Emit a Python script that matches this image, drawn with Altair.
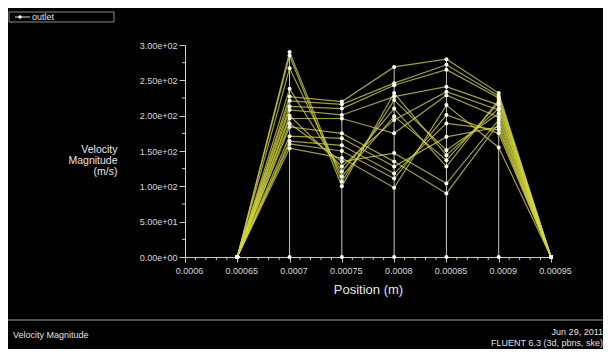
import altair as alt
import pandas as pd

# Positions along the outlet (m)
positions = [0.00065, 0.0007, 0.00075, 0.0008, 0.00085, 0.0009, 0.00095]

# Velocity magnitude (m/s) of each line at the inner positions
v_0007 = [290, 285, 267, 238, 227, 221, 213, 208, 200, 196, 189, 184, 171, 164, 160, 154]
v_00075 = [107, 100, 114, 121, 220, 216, 210, 201, 128, 196, 135, 175, 168, 158, 150, 140]
v_0008 = [222, 232, 199, 210, 269, 246, 243, 227, 194, 175, 147, 135, 128, 118, 111, 98]
v_00085 = [151, 144, 137, 128, 280, 272, 265, 241, 234, 229, 104, 90, 170, 189, 201, 215]
v_0009 = [203, 210, 218, 222, 232, 228, 225, 215, 208, 198, 194, 189, 184, 180, 175, 155]
edge_value = 0  # velocity at the walls (0.00065 and 0.00095)

y_major = list(range(0, 301, 50))
y_minor = list(range(25, 300, 50))
x_major = [round(0.0006 + i * 0.00005, 5) for i in range(8)]
x_minor = [round(0.0006 + i * 0.00001, 5) for i in range(36) if i % 5 != 0]

rows = []
for i in range(len(v_0007)):
    vals = [edge_value, v_0007[i], v_00075[i], v_0008[i], v_00085[i], v_0009[i], edge_value]
    for x, v in zip(positions, vals):
        rows.append({"line": i, "x": x, "v": v})
df = pd.DataFrame(rows)

pts = pd.concat([df, pd.DataFrame({"line": -1, "x": positions[1:-1], "v": edge_value})],
                ignore_index=True)
cols = df.groupby("x", as_index=False)["v"].max().rename(columns={"v": "vmax"})
cols["v"] = edge_value

FONT = "Liberation Sans"

x_axis = alt.Axis(
    values=x_major, format="~g", tickSize=5,
    labelPadding=4, labelFontSize=9, labelOffset=4, labelFlush=False, labelOverlap=False,
    grid=False, title="Position (m)", titleFontSize=13, titleY=32, titleBaseline="middle",
)
y_axis = alt.Axis(
    values=y_major,
    labelExpr="replace(format(datum.value, '.2e'), 'e+', 'e+0')",
    tickSize=6,
    labelPadding=2, labelFontSize=9, labelOverlap=False, labelFlush=False, grid=False,
    title=["Velocity", "Magnitude", "(m/s)"], titleAngle=0, titleAlign="right",
    titleBaseline="middle", titleX=-68, titleY=104.5, titleFontSize=10.5, titleLineHeight=10.8,
)

xs = alt.Scale(domain=[0.0006, 0.00095], nice=False, zero=False)
ys = alt.Scale(domain=[0, 300], nice=False)
X = alt.X("x:Q", scale=xs, axis=x_axis)
Y = alt.Y("v:Q", scale=ys, axis=y_axis)

rules = alt.Chart(cols).mark_rule(color="#c8c8b8", strokeWidth=1).encode(
    x=X, y=Y, y2="vmax:Q",
)
lines = alt.Chart(df).mark_line(color="#d6d640", strokeWidth=1.2, opacity=0.75).encode(
    x=X, y=Y, detail="line:N",
)
points = alt.Chart(pts).mark_circle(color="white", size=16, opacity=1).encode(
    x=X, y=Y,
)
y_minor_ticks = alt.Chart(pd.DataFrame({"v": y_minor})).mark_rule(color="#cccccc").encode(
    y=Y, x=alt.value(-3), x2=alt.value(0))
x_minor_ticks = alt.Chart(pd.DataFrame({"x": x_minor})).mark_rule(color="#cccccc").encode(
    x=X, y=alt.value(212), y2=alt.value(215))

one = pd.DataFrame({"a": [0]})
legend_box = alt.Chart(one).mark_rect(fill="black", stroke="#8a8a8a", strokeWidth=1).encode(
    x=alt.value(-176), x2=alt.value(-71), y=alt.value(-33), y2=alt.value(-23))
legend_line = alt.Chart(one).mark_rule(color="#dddddd", strokeWidth=1).encode(
    x=alt.value(-170), x2=alt.value(-155), y=alt.value(-28))
legend_dot = alt.Chart(one).mark_circle(color="white", size=12, opacity=1).encode(
    x=alt.value(-165), y=alt.value(-28))
legend_text = alt.Chart(one).mark_text(text="outlet", font=FONT, fontSize=9, color="#e0e0e0",
                                       align="left", baseline="middle").encode(
    x=alt.value(-153), y=alt.value(-28))
divider = alt.Chart(one).mark_rule(color="#6a6a6a", strokeWidth=1.5).encode(
    x=alt.value(-177), x2=alt.value(418), y=alt.value(275))
foot_left = alt.Chart(one).mark_text(text="Velocity Magnitude", font=FONT, fontSize=9,
                                     color="#e0e0e0", align="left", baseline="middle").encode(
    x=alt.value(-172), y=alt.value(290))
foot_date = alt.Chart(one).mark_text(text="Jun 29, 2011", font=FONT, fontSize=9,
                                     color="#e0e0e0", align="right", baseline="middle").encode(
    x=alt.value(418), y=alt.value(287))
foot_ver = alt.Chart(one).mark_text(text="FLUENT 6.3 (3d, pbns, ske)", font=FONT, fontSize=9,
                                    color="#e0e0e0", align="right", baseline="middle").encode(
    x=alt.value(418), y=alt.value(298))

chart = alt.layer(
    rules, lines, points, y_minor_ticks, x_minor_ticks,
    legend_box, legend_line, legend_dot, legend_text,
    divider, foot_left, foot_date, foot_ver,
).properties(
    width=366, height=212,
    padding={"left": 177, "top": 37, "right": 52, "bottom": 92},
    autosize=alt.AutoSizeParams(type="none"),
).configure(
    background="black",
).configure_view(
    stroke=None,
).configure_axis(
    domainColor="#cccccc", tickColor="#cccccc", labelColor="#d8d8d8",
    titleColor="#e6e6e6", labelFont=FONT, titleFont=FONT, titleFontWeight="normal",
)

chart.save("out.html", embed_options={"renderer": "svg", "actions": False})
